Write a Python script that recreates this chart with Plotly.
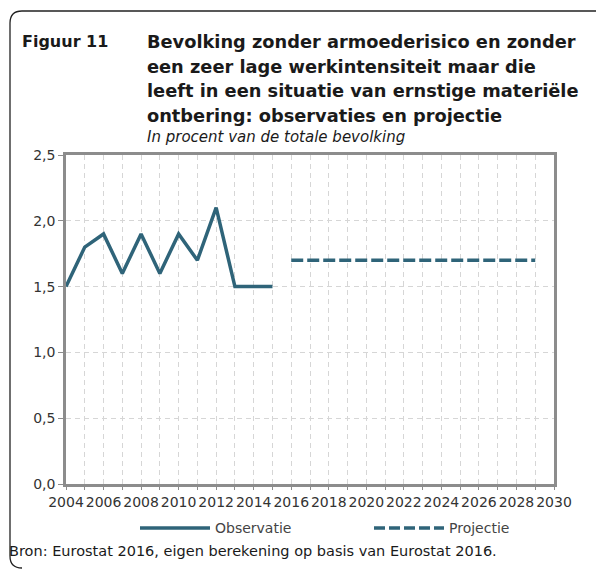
import plotly.graph_objects as go

# observaties en projectie (in % van de totale bevolking)
jaren_obs = [2004, 2005, 2006, 2007, 2008, 2009, 2010, 2011, 2012, 2013, 2014, 2015]
waarden_obs = [1.5, 1.8, 1.9, 1.6, 1.9, 1.6, 1.9, 1.7, 2.1, 1.5, 1.5, 1.5]
jaren_proj = [2016, 2017, 2018, 2019, 2020, 2021, 2022, 2023, 2024, 2025, 2026, 2027, 2028, 2029]
waarden_proj = [1.7] * len(jaren_proj)

titel_regels = [
    'Bevolking zonder armoederisico en zonder',
    'een zeer lage werkintensiteit maar die',
    'leeft in een situatie van ernstige materiële',
    'ontbering: observaties en projectie',
]

kleur = '#2f6479'
grijs = '#8c8c8c'
grid = '#d6d6d6'
FONT = 'DejaVu Sans'

W, H = 596, 570
L, R, T, B = 66, 42, 155, 86
pw, ph = W - L - R, H - T - B

def px(x):
    return (x - L) / pw

def py(y):
    return 1 - (y - T) / ph

fig = go.Figure()
fig.add_trace(go.Scatter(x=jaren_obs, y=waarden_obs, mode='lines', name='Observatie',
                         line=dict(color=kleur, width=3.5), showlegend=False))
fig.add_trace(go.Scatter(x=jaren_proj, y=waarden_proj, mode='lines', name='Projectie',
                         line=dict(color=kleur, width=3.5, dash='12px,4px'), showlegend=False))

fig.update_layout(
    width=W, height=H,
    margin=dict(l=L, r=R, t=T, b=B),
    paper_bgcolor='white', plot_bgcolor='white',
    separators=', ',
    font=dict(family=FONT, color='#333333', size=14),
)
fig.update_xaxes(range=[2004, 2030], dtick=2, tick0=2004, tickangle=0, showline=True, mirror=True,
                 linecolor=grijs, linewidth=2.5, ticks='outside', ticklen=3, tickcolor=grijs,
                 showgrid=True, gridcolor=grid, griddash='5px,4px', gridwidth=1,
                 tickfont=dict(size=14, color='#333333'), zeroline=False,
                 minor=dict(dtick=1, showgrid=True, gridcolor=grid, griddash='5px,4px',
                            ticks='outside', ticklen=3, tickcolor=grijs))
fig.update_yaxes(range=[0, 2.5], dtick=0.5, tickformat='.1f', showline=True, mirror=True,
                 linecolor=grijs, linewidth=2.5, ticks='outside', ticklen=5, tickcolor=grijs,
                 showgrid=True, gridcolor=grid, griddash='5px,4px', gridwidth=1,
                 tickfont=dict(size=14, color='#333333'), zeroline=False)

zwart = '#1a1a1a'
anns = [
    dict(text='<b>Figuur 11</b>', x=px(20), y=py(42), xanchor='left', yanchor='middle',
         font=dict(size=16, color=zwart)),
    dict(text='<i>In procent van de totale bevolking</i>', x=px(145), y=py(137),
         xanchor='left', yanchor='middle', font=dict(size=15, color=zwart)),
    dict(text='Bron: Eurostat 2016, eigen berekening op basis van Eurostat 2016.',
         x=px(7), y=py(551), xanchor='left', yanchor='middle', font=dict(size=14.5, color=zwart)),
    dict(text='Observatie', x=px(213), y=py(528), xanchor='left', yanchor='middle',
         font=dict(size=14, color='#444444')),
    dict(text='Projectie', x=px(447), y=py(528), xanchor='left', yanchor='middle',
         font=dict(size=14, color='#444444')),
]
for i, regel in enumerate(titel_regels):
    anns.append(dict(text=f'<b>{regel}</b>', x=px(145), y=py(42 + 24.5 * i), xanchor='left',
                     yanchor='middle', font=dict(size=17.8, color=zwart)))
for a in anns:
    a.update(xref='paper', yref='paper', showarrow=False)
    fig.add_annotation(**a)

# legendasymbolen
fig.add_shape(type='line', x0=px(140), x1=px(210), y0=py(528), y1=py(528), xref='paper', yref='paper',
              line=dict(color=kleur, width=3.5))
fig.add_shape(type='line', x0=px(374), x1=px(444), y0=py(528), y1=py(528), xref='paper', yref='paper',
              line=dict(color=kleur, width=3.5, dash='11px,4px'))

# kader: bovenrand en linkerrand met afgeronde hoeken
x0, y0, x1, y1, r = 10, 11, 600, 568, 12
path = (f'M {px(x1)},{py(y0)} L {px(x0 + r)},{py(y0)} Q {px(x0)},{py(y0)} {px(x0)},{py(y0 + r)} '
        f'L {px(x0)},{py(y1 - r)} Q {px(x0)},{py(y1)} {px(x0 + r)},{py(y1)}')
fig.add_shape(type='path', path=path, xref='paper', yref='paper',
              line=dict(color='#222222', width=1.3))

fig.write_html('out.html', config={'displayModeBar': False},
               post_script="document.body.style.margin='0';")
